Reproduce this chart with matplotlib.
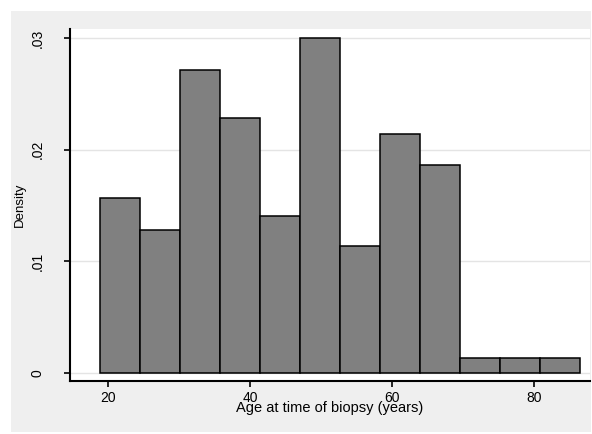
import numpy as np
import matplotlib; matplotlib.use("Agg")
import matplotlib.pyplot as plt
from matplotlib.patches import Rectangle

# histogram: 12 equal bins
bin_start = 18.9
bin_width = 5.63
density = [0.0157, 0.0128, 0.0271, 0.0228, 0.0141, 0.0300,
           0.0114, 0.0214, 0.0186, 0.0014, 0.0014, 0.0014]
x_ticks = [20, 40, 60, 80]
y_ticks = [0, 0.01, 0.02, 0.03]
y_ticklabels = ["0", ".01", ".02", ".03"]

plt.rcParams["font.family"] = ["Liberation Sans", "DejaVu Sans"]

fig = plt.figure(figsize=(5.92, 4.34), dpi=100, facecolor="white")
# stata-style light grey graph region, behind the axes
fig.patches.append(Rectangle((0.0186, 0.0046), 0.98, 0.970,
                             transform=fig.transFigure, facecolor="#efefef",
                             edgecolor="none", zorder=-10))
ax = fig.add_axes([0.1182, 0.1221, 0.8784, 0.8111])
ax.set_facecolor("white")

edges = bin_start + bin_width * np.arange(len(density) + 1)
ax.bar(edges[:-1], density, width=bin_width, align="edge",
       color="#808080", edgecolor="black", linewidth=1.1, zorder=3)

ax.set_xlim(14.65, 87.9)
ax.set_ylim(-0.0007, 0.0308)
ax.set_yticks(y_ticks)
ax.set_yticklabels(y_ticklabels, rotation=90, va="center")
ax.set_xticks(x_ticks)
ax.grid(axis="y", color="#e4e4e4", linewidth=1.0, zorder=0)

for s in ["top", "right"]:
    ax.spines[s].set_visible(False)
for s in ["left", "bottom"]:
    ax.spines[s].set_linewidth(1.5)

ax.tick_params(axis="both", direction="out", length=4, width=1.2,
               labelsize=10)
ax.tick_params(axis="x", pad=3)
ax.tick_params(axis="y", pad=14)

ax.set_xlabel("Age at time of biopsy (years)", fontsize=10.5, labelpad=-3)
ax.set_ylabel("Density", fontsize=9.5, labelpad=4)

fig.savefig("out.png", dpi=100, facecolor=fig.get_facecolor())
